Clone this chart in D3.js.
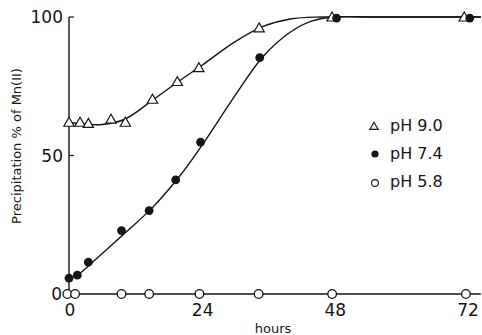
<!DOCTYPE html>
<html>
<head>
<meta charset="utf-8">
<script src="https://cdn.jsdelivr.net/npm/d3@7"></script>
<style>
body { margin:0; background:#fff; }
text { font-family: "DejaVu Sans", sans-serif; fill:#151515; }
</style>
</head>
<body>
<script>
var width = 482;
var height = 335;

// measured points (hours, % precipitated)
var ph90_hours = [0, 2, 3.5, 7.6, 10.2, 15.1, 19.6, 23.5, 34.4, 47.6, 71.5];
var ph90_vals  = [62, 62, 61.6, 63.1, 62, 70.3, 76.7, 81.7, 96.1, 100, 100];

var ph74_hours = [0, 1.5, 3.5, 9.5, 14.5, 19.3, 23.8, 34.5, 48.4, 72.5];
var ph74_vals  = [5.7, 6.8, 11.5, 22.9, 30.1, 41.2, 54.8, 85.3, 99.6, 99.6];

var ph58_hours = [-0.3, 1.1, 9.5, 14.5, 23.6, 34.3, 47.6, 71.8];
var ph58_vals  = [0, 0, 0, 0, 0, 0, 0, 0];

// hand-drawn fitted curves
var fit90_hours = [0, 3, 6, 10, 15, 20, 24, 30, 35, 40, 46, 55, 74.5];
var fit90_vals  = [62, 61.3, 61.2, 63, 69.8, 77, 82.5, 91, 96.5, 99.3, 100, 100, 100];

var fit74_hours = [0, 2, 4, 10, 15, 20, 24, 30, 35, 40, 44, 48, 55, 74.5];
var fit74_vals  = [5.5, 7.5, 11, 21.8, 31, 42.5, 53.5, 71.5, 85.5, 94.5, 98.6, 100, 100, 100];

var fit58_hours = [0, 74.5];
var fit58_vals  = [0, 0];

var xTicks = [0, 24, 48, 72];
var yTicks = [0, 50, 100];

var legendLabels = ["pH 9.0", "pH 7.4", "pH 5.8"];

var x = d3.scaleLinear().domain([0, 72]).range([69, 467]);
var y = d3.scaleLinear().domain([0, 100]).range([294, 17]);

var svg = d3.select("body").append("svg")
			.attr("width", width)
			.attr("height", height);

function zip(a, b) { return a.map(function(d, i){ return [d, b[i]]; }); }

var line = d3.line()
			.x(function(d){ return x(d[0]); })
			.y(function(d){ return y(d[1]); })
			.curve(d3.curveCatmullRom.alpha(0.5));

// y axis
svg.append("line")
	.attr("x1", x(0)).attr("x2", x(0))
	.attr("y1", y(100)).attr("y2", y(0))
	.attr("stroke", "#151515").attr("stroke-width", 1.4);

svg.selectAll(".ytick")
	.data([50, 100])
	.enter().append("line")
	.attr("x1", x(0)).attr("x2", x(0) + 5)
	.attr("y1", function(d){ return y(d); })
	.attr("y2", function(d){ return y(d); })
	.attr("stroke", "#151515").attr("stroke-width", 1.2);

svg.selectAll(".ylab")
	.data(yTicks)
	.enter().append("text")
	.attr("x", function(d){ return d == 0 ? 62 : 63; })
	.attr("y", function(d){ return y(d) + 6; })
	.attr("text-anchor", "end")
	.style("font-size", "17px")
	.text(function(d){ return d; });

svg.selectAll(".xlab")
	.data(xTicks)
	.enter().append("text")
	.attr("x", function(d){ return x(d) + 1; })
	.attr("y", 316)
	.attr("text-anchor", "middle")
	.style("font-size", "17px")
	.text(function(d){ return d; });

svg.append("text")
	.attr("transform", "translate(21,146) rotate(-90)")
	.attr("text-anchor", "middle")
	.style("font-size", "13px")
	.text("Precipitation % of Mn(II)");

svg.append("text")
	.attr("x", 273).attr("y", 333)
	.attr("text-anchor", "middle")
	.style("font-size", "13px")
	.text("hours");

// curves
[[fit90_hours, fit90_vals], [fit74_hours, fit74_vals], [fit58_hours, fit58_vals]].forEach(function(f){
	svg.append("path")
		.attr("d", line(zip(f[0], f[1])))
		.attr("fill", "none")
		.attr("stroke", "#151515")
		.attr("stroke-width", 1.4);
});

// markers
var tri = d3.symbol().type(d3.symbolTriangle).size(46);

svg.selectAll(".p90")
	.data(zip(ph90_hours, ph90_vals))
	.enter().append("path")
	.attr("d", tri)
	.attr("transform", function(d){ return "translate(" + x(d[0]) + "," + (y(d[1]) + 1) + ")"; })
	.attr("fill", "#fff")
	.attr("stroke", "#151515")
	.attr("stroke-width", 1.2);

svg.selectAll(".p58")
	.data(zip(ph58_hours, ph58_vals))
	.enter().append("circle")
	.attr("cx", function(d){ return x(d[0]); })
	.attr("cy", function(d){ return y(d[1]); })
	.attr("r", 4.3)
	.attr("fill", "#fff")
	.attr("stroke", "#151515")
	.attr("stroke-width", 1.3);

svg.selectAll(".p74")
	.data(zip(ph74_hours, ph74_vals))
	.enter().append("circle")
	.attr("cx", function(d){ return x(d[0]); })
	.attr("cy", function(d){ return y(d[1]); })
	.attr("r", 4.4)
	.attr("fill", "#151515");

// legend
var lg = svg.append("g");
lg.append("path")
	.attr("d", d3.symbol().type(d3.symbolTriangle).size(30))
	.attr("transform", "translate(374,127)")
	.attr("fill", "#fff").attr("stroke", "#151515").attr("stroke-width", 1.1);
lg.append("circle").attr("cx", 375).attr("cy", 154).attr("r", 3.6).attr("fill", "#151515");
lg.append("circle").attr("cx", 375).attr("cy", 183).attr("r", 3.4)
	.attr("fill", "#fff").attr("stroke", "#151515").attr("stroke-width", 1.1);

lg.selectAll("text")
	.data(legendLabels)
	.enter().append("text")
	.attr("x", 390)
	.attr("y", function(d, i){ return 131 + i * 28; })
	.style("font-size", "16px")
	.text(function(d){ return d; });
</script>
</body>
</html>
